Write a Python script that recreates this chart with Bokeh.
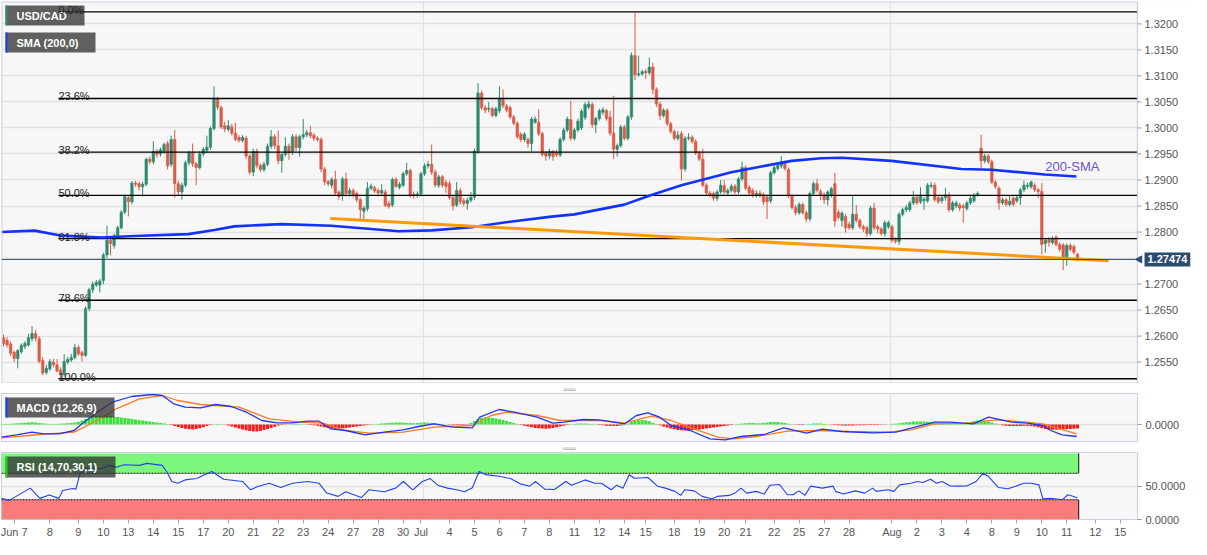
from bokeh.plotting import figure
from bokeh.models import (Range1d, FixedTicker, SingleIntervalTicker,
                          PrintfTickFormatter, Label, BoxAnnotation,
                          ColumnDataSource, Title)
from bokeh.layouts import column
from bokeh.embed import file_html
from bokeh.resources import INLINE
from bokeh.core.properties import value

FONT = "Liberation Sans"

# ---------------- USD/CAD 4H candles ----------------
opens = [
    1.2597, 1.2592, 1.2585, 1.2569, 1.2557, 1.2570, 1.2580, 1.2583, 1.2595, 1.2605,
    1.2595, 1.2553, 1.2530, 1.2537, 1.2550, 1.2545, 1.2535, 1.2526, 1.2550, 1.2554,
    1.2559, 1.2578, 1.2568, 1.2563, 1.2653, 1.2689, 1.2698, 1.2698, 1.2707, 1.2756,
    1.2784, 1.2774, 1.2793, 1.2808, 1.2838, 1.2866, 1.2858, 1.2894, 1.2893, 1.2887,
    1.2892, 1.2940, 1.2935, 1.2955, 1.2950, 1.2955, 1.2970, 1.2930, 1.2978, 1.2893,
    1.2877, 1.2890, 1.2933, 1.2952, 1.2931, 1.2924, 1.2950, 1.2957, 1.2963, 1.2999,
    1.3055, 1.3039, 1.3004, 1.2997, 1.3002, 1.2990, 1.2982, 1.2976, 1.2980, 1.2946,
    1.2915, 1.2955, 1.2928, 1.2920, 1.2930, 1.2965, 1.2983, 1.2966, 1.2937, 1.2949,
    1.2965, 1.2955, 1.2983, 1.2962, 1.2983, 1.2987, 1.2991, 1.2986, 1.2980, 1.2978,
    1.2921, 1.2897, 1.2890, 1.2901, 1.2877, 1.2870, 1.2902, 1.2874, 1.2880, 1.2874,
    1.2862, 1.2840, 1.2845, 1.2884, 1.2885, 1.2880, 1.2875, 1.2877, 1.2855, 1.2852,
    1.2901, 1.2886, 1.2890, 1.2912, 1.2918, 1.2873, 1.2870, 1.2873, 1.2912, 1.2927,
    1.2930, 1.2915, 1.2890, 1.2906, 1.2895, 1.2893, 1.2866, 1.2852, 1.2880, 1.2860,
    1.2855, 1.2861, 1.2867, 1.2955, 1.3067, 1.3039, 1.3036, 1.3037, 1.3024, 1.3033,
    1.3055, 1.3042, 1.3039, 1.3021, 1.3009, 1.2988, 1.2978, 1.2978, 1.2970, 1.3011,
    1.3011, 1.2989, 1.2952, 1.2946, 1.2955, 1.2953, 1.2948, 1.2978, 1.2996, 1.3016,
    1.2980, 1.2996, 1.3000, 1.3020, 1.3040, 1.3045, 1.3006, 1.3018, 1.3030, 1.3033,
    1.3021, 1.2990, 1.2959, 1.2966, 1.3002, 1.2980, 1.3021, 1.3139, 1.3102, 1.3104,
    1.3109, 1.3106, 1.3117, 1.3074, 1.3046, 1.3024, 1.3034, 1.3008, 1.2993, 1.2980,
    1.2989, 1.2921, 1.2980, 1.2982, 1.2974, 1.2952, 1.2940, 1.2890, 1.2875, 1.2874,
    1.2865, 1.2877, 1.2889, 1.2875, 1.2880, 1.2888, 1.2877, 1.2902, 1.2924, 1.2886,
    1.2880, 1.2870, 1.2875, 1.2872, 1.2867, 1.2860, 1.2914, 1.2922, 1.2927, 1.2932,
    1.2920, 1.2869, 1.2847, 1.2837, 1.2853, 1.2837, 1.2825, 1.2874, 1.2893, 1.2878,
    1.2872, 1.2862, 1.2870, 1.2893, 1.2838, 1.2822, 1.2830, 1.2815, 1.2808, 1.2834,
    1.2822, 1.2810, 1.2808, 1.2797, 1.2846, 1.2810, 1.2806, 1.2797, 1.2810, 1.2810,
    1.2786, 1.2782, 1.2834, 1.2843, 1.2843, 1.2856, 1.2867, 1.2858, 1.2860, 1.2860,
    1.2888, 1.2890, 1.2866, 1.2860, 1.2866, 1.2871, 1.2843, 1.2850, 1.2852, 1.2850,
    1.2845, 1.2856, 1.2860, 1.2871, 1.2961, 1.2937, 1.2946, 1.2935, 1.2896, 1.2884,
    1.2856, 1.2862, 1.2853, 1.2865, 1.2860, 1.2866, 1.2881, 1.2888, 1.2887, 1.2890,
    1.2881, 1.2878, 1.2778, 1.2785, 1.2780, 1.2790, 1.2776, 1.2775, 1.2747, 1.2774,
    1.2772, 1.2757,
]
highs = [
    1.2603, 1.2598, 1.2590, 1.2572, 1.2575, 1.2586, 1.2590, 1.2604, 1.2619, 1.2612,
    1.2600, 1.2560, 1.2545, 1.2556, 1.2556, 1.2556, 1.2540, 1.2565, 1.2560, 1.2566,
    1.2585, 1.2583, 1.2572, 1.2657, 1.2693, 1.2705, 1.2708, 1.2710, 1.2760, 1.2812,
    1.2788, 1.2797, 1.2812, 1.2842, 1.2872, 1.2870, 1.2898, 1.2898, 1.2897, 1.2897,
    1.2943, 1.2945, 1.2974, 1.2960, 1.2962, 1.2972, 1.2975, 1.2985, 1.2996, 1.2898,
    1.2895, 1.2937, 1.2956, 1.2970, 1.2935, 1.2955, 1.2963, 1.2985, 1.3003, 1.3080,
    1.3060, 1.3043, 1.3012, 1.3015, 1.3008, 1.3010, 1.2986, 1.2986, 1.2985, 1.2950,
    1.2960, 1.2960, 1.2932, 1.2935, 1.2970, 1.2996, 1.2988, 1.2995, 1.2952, 1.2982,
    1.2970, 1.2988, 1.2988, 1.2987, 1.3017, 1.2996, 1.3004, 1.2990, 1.2984, 1.2982,
    1.2925, 1.2900, 1.2905, 1.2918, 1.2880, 1.2906, 1.2914, 1.2885, 1.2884, 1.2878,
    1.2866, 1.2850, 1.2896, 1.2893, 1.2889, 1.2884, 1.2892, 1.2882, 1.2860, 1.2905,
    1.2905, 1.2896, 1.2916, 1.2933, 1.2922, 1.2878, 1.2878, 1.2916, 1.2932, 1.2936,
    1.2968, 1.2920, 1.2910, 1.2910, 1.2900, 1.2898, 1.2870, 1.2896, 1.2885, 1.2865,
    1.2866, 1.2877, 1.2960, 1.3086, 1.3072, 1.3044, 1.3050, 1.3041, 1.3041, 1.3080,
    1.3074, 1.3046, 1.3043, 1.3025, 1.3013, 1.2992, 1.2992, 1.2982, 1.3021, 1.3022,
    1.3036, 1.2993, 1.2956, 1.2960, 1.2958, 1.2958, 1.2982, 1.3000, 1.3022, 1.3052,
    1.3000, 1.3018, 1.3036, 1.3050, 1.3052, 1.3050, 1.3022, 1.3037, 1.3040, 1.3037,
    1.3033, 1.3062, 1.2970, 1.3006, 1.3006, 1.3025, 1.3145, 1.3222, 1.3139, 1.3112,
    1.3113, 1.3135, 1.3125, 1.3078, 1.3050, 1.3038, 1.3038, 1.3012, 1.2997, 1.2994,
    1.2994, 1.2984, 1.2990, 1.2986, 1.2978, 1.2956, 1.2960, 1.2894, 1.2879, 1.2878,
    1.2881, 1.2900, 1.2900, 1.2884, 1.2893, 1.2892, 1.2906, 1.2935, 1.2928, 1.2890,
    1.2884, 1.2880, 1.2880, 1.2876, 1.2870, 1.2918, 1.2928, 1.2932, 1.2946, 1.2937,
    1.2924, 1.2873, 1.2852, 1.2857, 1.2857, 1.2841, 1.2878, 1.2897, 1.2902, 1.2882,
    1.2876, 1.2880, 1.2887, 1.2914, 1.2843, 1.2840, 1.2834, 1.2820, 1.2871, 1.2852,
    1.2826, 1.2814, 1.2812, 1.2850, 1.2856, 1.2814, 1.2810, 1.2822, 1.2822, 1.2814,
    1.2790, 1.2838, 1.2847, 1.2852, 1.2860, 1.2879, 1.2871, 1.2886, 1.2868, 1.2894,
    1.2896, 1.2895, 1.2870, 1.2870, 1.2885, 1.2876, 1.2860, 1.2860, 1.2856, 1.2854,
    1.2860, 1.2869, 1.2875, 1.2878, 1.2987, 1.2950, 1.2950, 1.2939, 1.2900, 1.2888,
    1.2866, 1.2866, 1.2871, 1.2869, 1.2870, 1.2885, 1.2899, 1.2895, 1.2899, 1.2894,
    1.2885, 1.2894, 1.2788, 1.2790, 1.2792, 1.2794, 1.2780, 1.2779, 1.2778, 1.2778,
    1.2776, 1.2760,
]
lows = [
    1.2580, 1.2578, 1.2562, 1.2550, 1.2538, 1.2566, 1.2575, 1.2580, 1.2590, 1.2590,
    1.2548, 1.2525, 1.2526, 1.2533, 1.2540, 1.2530, 1.2518, 1.2522, 1.2546, 1.2550,
    1.2555, 1.2562, 1.2551, 1.2560, 1.2648, 1.2683, 1.2694, 1.2684, 1.2700, 1.2750,
    1.2755, 1.2768, 1.2790, 1.2805, 1.2834, 1.2830, 1.2853, 1.2887, 1.2880, 1.2868,
    1.2888, 1.2930, 1.2930, 1.2943, 1.2945, 1.2950, 1.2920, 1.2925, 1.2866, 1.2870,
    1.2862, 1.2886, 1.2928, 1.2925, 1.2890, 1.2920, 1.2945, 1.2952, 1.2958, 1.2995,
    1.3035, 1.2998, 1.2992, 1.2993, 1.2985, 1.2975, 1.2972, 1.2972, 1.2940, 1.2910,
    1.2907, 1.2922, 1.2915, 1.2915, 1.2926, 1.2960, 1.2960, 1.2930, 1.2914, 1.2945,
    1.2939, 1.2948, 1.2955, 1.2945, 1.2978, 1.2982, 1.2980, 1.2975, 1.2974, 1.2915,
    1.2890, 1.2888, 1.2884, 1.2870, 1.2862, 1.2860, 1.2868, 1.2868, 1.2866, 1.2857,
    1.2825, 1.2823, 1.2840, 1.2880, 1.2875, 1.2868, 1.2870, 1.2848, 1.2845, 1.2848,
    1.2884, 1.2882, 1.2886, 1.2908, 1.2866, 1.2864, 1.2866, 1.2868, 1.2908, 1.2922,
    1.2910, 1.2886, 1.2885, 1.2885, 1.2875, 1.2862, 1.2841, 1.2848, 1.2853, 1.2850,
    1.2843, 1.2857, 1.2862, 1.2950, 1.3034, 1.3028, 1.3030, 1.3020, 1.3020, 1.3028,
    1.3038, 1.3030, 1.3017, 1.3005, 1.2979, 1.2973, 1.2973, 1.2962, 1.2955, 1.3008,
    1.2985, 1.2945, 1.2937, 1.2940, 1.2937, 1.2944, 1.2944, 1.2974, 1.2992, 1.2976,
    1.2976, 1.2992, 1.2996, 1.3015, 1.3036, 1.3000, 1.2990, 1.3014, 1.3025, 1.3014,
    1.2985, 1.2940, 1.2945, 1.2962, 1.2976, 1.2976, 1.3016, 1.3092, 1.3098, 1.3100,
    1.3094, 1.3102, 1.3065, 1.3040, 1.3015, 1.3020, 1.3004, 1.2989, 1.2976, 1.2976,
    1.2899, 1.2916, 1.2976, 1.2970, 1.2948, 1.2936, 1.2886, 1.2870, 1.2866, 1.2860,
    1.2860, 1.2873, 1.2873, 1.2870, 1.2876, 1.2873, 1.2873, 1.2898, 1.2880, 1.2871,
    1.2866, 1.2866, 1.2866, 1.2852, 1.2825, 1.2855, 1.2910, 1.2918, 1.2922, 1.2918,
    1.2865, 1.2843, 1.2832, 1.2833, 1.2833, 1.2819, 1.2820, 1.2870, 1.2876, 1.2861,
    1.2854, 1.2851, 1.2866, 1.2810, 1.2824, 1.2810, 1.2799, 1.2804, 1.2804, 1.2818,
    1.2806, 1.2800, 1.2791, 1.2793, 1.2804, 1.2797, 1.2793, 1.2791, 1.2806, 1.2780,
    1.2778, 1.2775, 1.2830, 1.2838, 1.2839, 1.2852, 1.2852, 1.2854, 1.2843, 1.2856,
    1.2884, 1.2858, 1.2854, 1.2855, 1.2860, 1.2838, 1.2839, 1.2846, 1.2840, 1.2818,
    1.2841, 1.2852, 1.2856, 1.2868, 1.2923, 1.2932, 1.2931, 1.2892, 1.2883, 1.2843,
    1.2852, 1.2849, 1.2849, 1.2849, 1.2856, 1.2852, 1.2877, 1.2884, 1.2883, 1.2877,
    1.2865, 1.2757, 1.2760, 1.2772, 1.2776, 1.2772, 1.2762, 1.2727, 1.2735, 1.2763,
    1.2757, 1.2744,
]
closes = [
    1.2585, 1.2583, 1.2567, 1.2557, 1.2572, 1.2582, 1.2586, 1.2597, 1.2605, 1.2596,
    1.2551, 1.2529, 1.2538, 1.2551, 1.2545, 1.2533, 1.2526, 1.2551, 1.2555, 1.2559,
    1.2578, 1.2566, 1.2563, 1.2653, 1.2689, 1.2700, 1.2703, 1.2706, 1.2756, 1.2784,
    1.2778, 1.2793, 1.2808, 1.2838, 1.2868, 1.2858, 1.2894, 1.2892, 1.2887, 1.2892,
    1.2940, 1.2935, 1.2955, 1.2949, 1.2958, 1.2968, 1.2927, 1.2978, 1.2893, 1.2877,
    1.2890, 1.2933, 1.2952, 1.2931, 1.2924, 1.2950, 1.2959, 1.2963, 1.2999, 1.3055,
    1.3040, 1.3002, 1.2998, 1.3004, 1.2990, 1.2978, 1.2976, 1.2982, 1.2946, 1.2915,
    1.2955, 1.2928, 1.2920, 1.2930, 1.2965, 1.2983, 1.2966, 1.2937, 1.2949, 1.2965,
    1.2952, 1.2983, 1.2962, 1.2983, 1.2987, 1.2991, 1.2985, 1.2980, 1.2978, 1.2921,
    1.2896, 1.2893, 1.2901, 1.2875, 1.2868, 1.2902, 1.2874, 1.2880, 1.2872, 1.2862,
    1.2843, 1.2846, 1.2884, 1.2888, 1.2879, 1.2875, 1.2880, 1.2851, 1.2849, 1.2901,
    1.2888, 1.2892, 1.2912, 1.2918, 1.2871, 1.2870, 1.2873, 1.2912, 1.2927, 1.2930,
    1.2915, 1.2890, 1.2906, 1.2890, 1.2888, 1.2866, 1.2850, 1.2880, 1.2858, 1.2855,
    1.2861, 1.2867, 1.2955, 1.3067, 1.3039, 1.3034, 1.3038, 1.3024, 1.3037, 1.3055,
    1.3043, 1.3034, 1.3021, 1.3009, 1.2983, 1.2978, 1.2988, 1.2970, 1.3017, 1.3017,
    1.2989, 1.2949, 1.2946, 1.2955, 1.2945, 1.2948, 1.2978, 1.2996, 1.3017, 1.2980,
    1.2996, 1.3013, 1.3032, 1.3045, 1.3046, 1.3006, 1.3018, 1.3033, 1.3035, 1.3018,
    1.2990, 1.2959, 1.2966, 1.3002, 1.2980, 1.3021, 1.3139, 1.3102, 1.3104, 1.3108,
    1.3106, 1.3117, 1.3074, 1.3046, 1.3024, 1.3034, 1.3008, 1.2993, 1.2980, 1.2986,
    1.2921, 1.2980, 1.2982, 1.2974, 1.2952, 1.2940, 1.2890, 1.2875, 1.2870, 1.2865,
    1.2877, 1.2890, 1.2877, 1.2880, 1.2888, 1.2877, 1.2902, 1.2924, 1.2884, 1.2875,
    1.2870, 1.2874, 1.2870, 1.2858, 1.2858, 1.2914, 1.2924, 1.2928, 1.2935, 1.2922,
    1.2869, 1.2847, 1.2837, 1.2853, 1.2837, 1.2825, 1.2874, 1.2893, 1.2880, 1.2871,
    1.2862, 1.2877, 1.2883, 1.2821, 1.2828, 1.2836, 1.2808, 1.2808, 1.2834, 1.2822,
    1.2810, 1.2806, 1.2797, 1.2846, 1.2808, 1.2806, 1.2797, 1.2818, 1.2818, 1.2784,
    1.2782, 1.2834, 1.2843, 1.2847, 1.2856, 1.2867, 1.2856, 1.2871, 1.2863, 1.2890,
    1.2890, 1.2862, 1.2858, 1.2866, 1.2871, 1.2843, 1.2856, 1.2856, 1.2846, 1.2847,
    1.2856, 1.2865, 1.2871, 1.2874, 1.2937, 1.2946, 1.2935, 1.2896, 1.2887, 1.2856,
    1.2862, 1.2853, 1.2859, 1.2853, 1.2866, 1.2881, 1.2890, 1.2890, 1.2896, 1.2881,
    1.2878, 1.2776, 1.2784, 1.2780, 1.2786, 1.2776, 1.2767, 1.2747, 1.2774, 1.2767,
    1.2761, 1.27474,
]

# 200-period SMA (candle index, value)
sma_idx = [-0.6, 8.7, 16.3, 27.5, 36.7, 51.8, 59.1, 64.7, 77.9, 91.9, 110.7, 120.0,
           131.2, 140.4, 153.6, 160.0, 174.0, 181.6, 190.0, 204.0, 212.4, 220.9,
           229.2, 234.9, 248.9, 268.5, 276.9, 291.8, 300.7]
sma_val = [1.28000, 1.28027, 1.27930, 1.27895, 1.27925, 1.27960, 1.28040, 1.28109,
           1.28152, 1.28121, 1.28016, 1.28031, 1.28091, 1.28184, 1.28296, 1.28339,
           1.28526, 1.28713, 1.28900, 1.29148, 1.29260, 1.29367, 1.29417, 1.29428,
           1.29367, 1.29211, 1.29198, 1.29105, 1.29068]

# descending support line
trend_idx = [91.6, 309.7]
trend_val = [1.2826, 1.2745]

# Fibonacci retracement (swing high / low)
fib_high, fib_low = 1.3223, 1.2518
fib_ratios = [0.0, 0.236, 0.382, 0.5, 0.618, 0.786, 1.0]
fib_labels = ["0.0%", "23.6%", "38.2%", "50.0%", "61.8%", "78.6%", "100.0%"]

# price axis ticks
price_ticks = [1.2550, 1.2600, 1.2650, 1.2700, 1.2750, 1.2800, 1.2850, 1.2900,
               1.2950, 1.3000, 1.3050, 1.3100, 1.3150, 1.3200]

# MACD (12,26,9) in pips (1e-4)
macd_idx = [-0.6, 3.7, 8.0, 11.2, 15.5, 19.8, 22.0, 26.3, 30.5, 35.9,
            41.8, 44.5, 47.7, 50.9, 55.2, 59.5, 63.8, 68.1, 72.4, 76.7,
            81.0, 85.3, 88.4, 91.7, 95.9, 101.3, 106.7, 112.0, 116.3, 120.7,
            126.0, 131.4, 133.5, 138.9, 143.2, 149.6, 153.9, 157.1, 162.5, 166.8,
            174.1, 177.4, 180.6, 183.9, 187.1, 192.5, 198.0, 202.3, 206.7, 213.2,
            218.6, 225.1, 229.5, 234.9, 243.6, 250.1, 254.4, 260.9, 265.2, 271.8,
            276.1, 282.6, 286.9, 291.3, 293.5, 296.7, 300.8]
macd_pips = [-12.7, -10.3, -7.7, -9.3, -9.3, -6, 0.7, 12.3, 22.3, 28,
             30, 29, 20.7, 17.3, 16.7, 20, 18, 12.3, 4, 1.7,
             1.7, 3.3, 3.3, -4.3, -6, -10.3, -7.7, -5.3, -2, 0.7,
             -2.7, -3.3, 7.3, 15, 12.3, 7.3, 1.3, 2.3, 5, 4.7,
             0.7, 9, 11.7, 7.3, -1, -6, -14.3, -15.3, -12, -10,
             -3.3, -8.7, -4.7, -7, -8.3, -7.7, -3.7, 2.3, 2.3, 0.7,
             7.3, 2.3, 1.3, -1, -6, -10.3, -12]
signal_idx = [-0.6, 10.2, 19.8, 26.3, 31.6, 38.1, 44.5, 48.8, 55.2, 59.5,
              66.0, 74.5, 83.1, 89.5, 95.9, 102.4, 112.0, 120.7, 131.4, 136.7,
              141.0, 149.6, 156.0, 164.6, 167.6, 174.1, 181.7, 187.1, 193.6, 200.1,
              204.5, 211.0, 219.7, 228.3, 237.1, 247.9, 254.4, 260.9, 269.6, 278.3,
              286.9, 291.3, 300.8]
signal_pips = [-13.3, -10, -7.7, 4, 15.7, 25.7, 29, 24, 20, 19,
               17.3, 5.7, 2.3, 1.3, -6, -8.7, -7.7, -2.7, -1, 9,
               12.3, 9, 4, 4, 4, 1.7, 8.3, 4, -4.3, -12.7,
               -14.3, -12, -6.7, -6, -7, -7.7, -5.3, 0.7, 1.3, 4.7,
               2.3, 0.7, -9.3]
hist_pips = [
    0.5, 0.6, 0.8, 1, 1.2, 1.5, 1.8, 2, 2.2, 2, 1.6, 1.2, 0.8, 0.5,
    0.4, 0.6, 0.8, 1, 1.2, 1.5, 2, 2.8,
    4, 5.5, 7, 8, 8.6, 9, 8.8, 8.5, 8.2, 7.8,
    7.5, 7, 6.6, 6, 5.5, 5, 4.5, 4, 3.5, 3, 2.5, 2, 1.5, 1, 0.5,
    -0.5, -1.5, -2.5, -3.5, -4.2, -4.8, -5, -4.6, -3.8, -2.8, -1.5,
    -0.5, 0.3, 0.5, 0.3, -0.3, -1,
    -2, -3, -4, -5, -5.8, -6.5, -7, -7, -6.5, -5.5, -4.5, -3.5, -2.2, -1,
    -0.5, -0.3, 0.2, 0.4, 0.5, 0.4, 0.2, -0.2, -0.5, -0.8, -1.2,
    -2, -2.8, -3.5, -4, -4.2, -4, -3.8, -3.5, -3, -2.5, -2, -1.5, -1, -0.6, -0.3,
    0.3, 0.6, 1, 1.3, 1.6, 1.8, 2, 2, 1.8, 1.6, 1.4, 1.2, 1.5, 1.8, 2, 1.8, 1.5, 1.2, 0.8, 0.4, 0.1,
    -0.3, -0.5, -0.6, -0.6, -0.4, -0.2,
    1.5, 3.5, 5.5, 6.8, 7.2, 7, 6.5, 6, 5.3, 4.5, 3.5, 2.5, 1.5, 0.5,
    -0.5, -1.2, -2, -2.8, -3.4, -3.8, -4, -4.2, -4, -3.5, -2.8, -2, -1.2, -0.5,
    0.3, 0.6, 0.9, 1, 1, 0.8, 0.5, 0.2,
    -0.4, -0.8, -1.2, -1.5, -1.6, -1.4, -1, -0.3,
    1, 2.5, 3.5, 4.3, 4.6, 4.2, 3.2, 1.8,
    0.5, -0.8, -2, -3, -4, -4.8, -5.4, -5.8, -6, -6, -5.8, -5.5, -5, -4.5, -4, -3.5, -3, -2.5, -2, -1.5, -1, -0.5,
    0.3, 0.6, 1, 1.3, 1.5, 1.4, 1.2, 1.3, 1.6, 2, 2.4, 2.6, 2.5, 2, 1.5, 0.8,
    0.3, -0.3, -0.6, -0.4, 0.2, 0.6, 1, 1.1, 0.9, 0.5, 0.2, -0.2, -0.5, -0.7,
    -0.9, -1, -1, -0.9, -0.8, -0.8, -0.7, -0.6, -0.6, -0.5, -0.4, -0.3, -0.2, 0.1, 0.4, 0.8, 1.2,
    1.7, 2.2, 2.6, 2.9, 3, 3, 2.9, 2.7, 2.4, 2, 1.7, 1.5, 1.3, 1, 0.7,
    0.6, 0.8, 1.2, 1.8, 2.6, 3.4, 4, 4.2, 3.8, 3, 2, 1,
    -0.2, -0.8, -1.2, -1.5, -1.6, -1.5, -1.4, -1.3, -1.3, -1.5, -2,
    -2.8, -3.8, -4.6, -5, -5.2, -5.2, -5, -4.8, -4.6, -4.4, -4.2, -4,
]

# RSI (14)
rsi_idx = [-0.6, 1.6, 7.5, 10.2, 12.8, 15.5, 16.6, 19.3, 20.3, 21.4,
           23.0, 27.3, 29.5, 31.6, 33.8, 38.1, 40.2, 44.5, 45.8, 47.2,
           48.8, 50.9, 54.1, 58.4, 61.7, 67.0, 69.2, 71.3, 74.5, 77.7,
           81.0, 85.3, 88.4, 90.6, 93.8, 95.9, 100.3, 102.4, 106.7, 109.9,
           112.1, 114.7, 117.4, 119.6, 121.7, 124.4, 127.1, 129.2, 131.4, 133.3,
           135.1, 138.9, 142.1, 144.8, 147.5, 149.1, 151.7, 154.4, 157.6, 159.2,
           163.0, 165.7, 167.6, 170.3, 171.9, 173.6, 175.4, 176.8, 180.6, 183.3,
           185.5, 188.2, 189.8, 190.9, 193.6, 195.8, 198.5, 200.1, 203.4, 205.0,
           206.7, 208.3, 211.0, 213.2, 214.8, 217.5, 219.7, 221.3, 222.9, 224.6,
           226.2, 229.5, 232.5, 233.2, 235.4, 238.7, 241.4, 243.6, 244.6, 247.9,
           249.5, 251.2, 254.4, 256.1, 257.7, 259.8, 261.5, 263.1, 265.2, 267.4,
           270.1, 272.6, 274.5, 276.1, 278.8, 281.5, 283.7, 285.9, 288.0, 290.2,
           291.3, 293.5, 295.1, 296.7, 298.3, 301.0]
rsi_val = [32, 29, 47.5, 32, 37, 32, 44, 47, 46, 69,
           78, 77, 82, 79, 83, 82, 85, 82, 72, 57.6,
           55, 60, 62, 72.7, 61, 57.6, 45, 50, 55, 48.5,
           55, 57.6, 55, 40, 35, 42, 33.3, 45, 42, 47.5,
           57.6, 45, 57.6, 62, 52, 47.5, 45, 42, 48, 72.7,
           68, 65.6, 62, 54, 50.5, 57.6, 46, 45.5, 57.6, 52,
           60, 55, 55, 45, 52, 47.5, 67.7, 62.6, 63.6, 50.5,
           47.5, 42.6, 36.5, 45, 43.4, 35, 31.3, 35, 36.5, 40,
           47.5, 40, 42.6, 38.5, 52, 53, 37.5, 37.5, 43.4, 36.5,
           50.5, 47.5, 50.5, 42.6, 38.5, 43.4, 40, 47.5, 42.6, 45,
           42.6, 52.5, 55, 57.6, 56, 61, 55, 57.6, 51, 50.5,
           51, 57.6, 70, 65, 48.5, 46.5, 50.5, 55, 55, 52.5,
           31.3, 32, 31, 29.8, 37.5, 33]

# x-axis date ticks (candle index) and labels
date_ticks = [3, 13, 21, 28, 35, 42, 49, 56, 63, 70,
              77, 84, 91, 98, 105, 112, 117, 125, 132, 139,
              146, 153, 160, 167, 174, 180, 188, 195, 202, 208,
              216, 223, 230, 237, 249, 256, 263, 270, 277, 284,
              291, 298, 306, 313]
date_labels = ["Jun 7", "8", "9", "10", "13", "14", "15", "17", "20", "21",
               "22", "23", "24", "27", "28", "30", "Jul", "4", "5", "6",
               "7", "8", "11", "12", "14", "15", "18", "19", "20", "21",
               "22", "25", "27", "28", "Aug", "2", "3", "4", "8", "9",
               "10", "11", "12", "15"]
month_ticks = [117.6, 248.6]

# ---------------- styling / layout ----------------
UP, DOWN = "#2e8a6e", "#dc5a46"
BORDER = "#c8cfe2"
PX = 3.568                      # pixels per candle
X0 = -0.56
FW_SUB = 1136                   # frame width of indicator panels
FW_MAIN = 1190                  # main frame also holds the price scale
AX0 = X0 + FW_SUB / PX          # x of price-scale line
FH_MAIN, FH_MACD, FH_RSI = 382, 49, 67
Y0, Y1 = 1.25089, 1.32430

n = len(closes)
xs = list(range(n))
candle_src = ColumnDataSource(dict(
    x=xs, h=highs, l=lows,
    top=[max(o, c) for o, c in zip(opens, closes)],
    bottom=[min(o, c) for o, c in zip(opens, closes)],
    color=[UP if c >= o else DOWN for o, c in zip(opens, closes)],
))


def style_common(p):
    p.background_fill_color = "#f7f7f7"
    p.border_fill_color = "white"
    p.xgrid.ticker = FixedTicker(ticks=month_ticks)
    p.xgrid.grid_line_color = "#e2e2e2"
    p.xgrid.grid_line_width = 1.2
    p.ygrid.grid_line_color = "#e2e2e2"
    p.ygrid.grid_line_width = 1.4


def style_yaxis(p):
    yax = p.yaxis[0]
    yax.major_label_text_font = FONT
    yax.major_label_text_font_size = "11px"
    yax.major_label_text_color = "#555555"
    yax.axis_line_color = None
    yax.major_tick_line_color = "#9a9a9a"
    yax.major_tick_out = 4
    yax.major_tick_in = 0
    yax.minor_tick_line_color = None
    yax.major_label_standoff = 4
    yax.formatter = PrintfTickFormatter(format="%.4f")


def tag_box(p, fh, top, bottom, right, accent, text):
    p.add_layout(BoxAnnotation(left=4, right=right, top=fh - top, bottom=fh - bottom,
                               left_units="screen", right_units="screen",
                               top_units="screen", bottom_units="screen",
                               fill_color="#333333", fill_alpha=0.77, line_color=None))
    p.add_layout(BoxAnnotation(left=4, right=6, top=fh - top, bottom=fh - bottom,
                               left_units="screen", right_units="screen",
                               top_units="screen", bottom_units="screen",
                               fill_color=accent, fill_alpha=1.0, line_color=None))
    p.add_layout(Label(x=15, y=fh - (top + bottom) / 2, x_units="screen", y_units="screen",
                       text=text, text_font=FONT, text_font_size="11px",
                       text_font_style="bold", text_color="white", text_baseline="middle"))


def handle():
    return Title(text="\u2550\u2550\u2550", align="center", standoff=0,
                 text_font="DejaVu Sans Mono", text_font_size="7px",
                 text_color="#8c8c8c", text_font_style="normal")


# ---------------- main price panel ----------------
p = figure(frame_width=FW_MAIN, frame_height=FH_MAIN,
           x_range=Range1d(X0, X0 + FW_MAIN / PX), y_range=Range1d(Y0, Y1),
           output_backend="svg", toolbar_location=None,
           min_border_left=1, min_border_right=0, min_border_top=1, min_border_bottom=0)
style_common(p)
p.outline_line_color = None
p.xaxis.visible = False
p.yaxis.visible = False
p.ygrid.ticker = SingleIntervalTicker(interval=0.005, num_minor_ticks=0)

p.segment(x0="x", y0="h", x1="x", y1="l", line_color="color", line_width=1, source=candle_src)
p.vbar(x="x", width=0.7, top="top", bottom="bottom", fill_color="color",
       line_color="color", line_width=0.6, source=candle_src)

fib_levels = [fib_high - r * (fib_high - fib_low) for r in fib_ratios]
fib_start = 15.4
p.segment(x0=[fib_start] * len(fib_levels), y0=fib_levels,
          x1=[X0 + FW_SUB / PX] * len(fib_levels), y1=fib_levels,
          line_color="#000000", line_width=1.3)
p.text(x=[fib_start] * len(fib_levels), y=fib_levels, text=fib_labels,
       text_font=value(FONT), text_font_size="11px", text_color="#222222",
       text_baseline="alphabetic", y_offset=-2, level="overlay")

p.line(sma_idx, sma_val, line_color="#1232ff", line_width=2.6)
p.line(trend_idx, trend_val, line_color="#ff9a0a", line_width=3)

# price scale area (inside the frame so that the last-price tag can sit on it)
x_end = X0 + FW_MAIN / PX
p.quad(left=[AX0], right=[x_end + 1], bottom=[Y0 - 0.01], top=[Y1 + 0.01],
       fill_color="white", line_color=None)
p.segment(x0=[AX0, X0, X0, X0], y0=[Y0, Y0, Y1, Y0],
          x1=[AX0, AX0, AX0, X0], y1=[Y1, Y0, Y1, Y1],
          line_color=BORDER, line_width=[1.2, 2, 2, 2])
p.segment(x0=[AX0] * len(price_ticks), y0=price_ticks,
          x1=[AX0 + 4 / PX] * len(price_ticks), y1=price_ticks,
          line_color="#9a9a9a", line_width=1)
p.text(x=[AX0] * len(price_ticks), y=price_ticks,
       text=[f"{v:.4f}" for v in price_ticks], x_offset=7,
       text_font=value(FONT), text_font_size="11px", text_color="#555555",
       text_baseline="middle", text_align="left")

last = closes[-1]
p.segment(x0=[X0], y0=[last], x1=[AX0 + 1], y1=[last], line_color="#2c4a6e", line_width=1)
p.scatter(x=[AX0 + 2.2 / PX], y=[last], marker="triangle", angle=1.5708, size=7,
          fill_color="#2c4a6e", line_color="#2c4a6e")
p.add_layout(Label(x=292, y=1.2925, text="200-SMA", text_font=FONT,
                   text_font_size="13px", text_color="#6d52d2", text_baseline="middle"))
p.add_layout(Label(x=AX0, y=last, x_offset=7,
                   text=f"{last:.5f}", text_font=FONT, text_font_size="11px",
                   text_font_style="bold", text_color="white", text_baseline="middle",
                   background_fill_color="#2c4a6e", padding=3))
tag_box(p, FH_MAIN, 4, 24, 83, "#2e8a6e", "USD/CAD")
tag_box(p, FH_MAIN, 31, 51, 94, "#1f3cff", "SMA (200,0)")

# ---------------- MACD panel ----------------
pm = figure(frame_width=FW_SUB, frame_height=FH_MACD,
            x_range=Range1d(X0, AX0), y_range=Range1d(-0.0018, 0.0031),
            output_backend="svg", toolbar_location=None, y_axis_location="right",
            min_border_left=1, min_border_right=54, min_border_top=0, min_border_bottom=0,
            title=handle())
style_common(pm)
style_yaxis(pm)
pm.outline_line_color = BORDER
pm.xaxis.visible = False
pm.yaxis[0].ticker = FixedTicker(ticks=[0])
pm.ygrid.ticker = FixedTicker(ticks=[0])
hist = [v * 1e-4 for v in hist_pips]
hist_src = ColumnDataSource(dict(
    x=xs[:len(hist)], top=hist,
    color=["#3ae33a" if v >= 0 else "#f21d1d" for v in hist]))
pm.vbar(x="x", width=0.85, top="top", bottom=0, fill_color="color",
        line_color=None, source=hist_src)
pm.line(signal_idx, [v * 1e-4 for v in signal_pips], line_color="#ff7a22", line_width=1.3)
pm.line(macd_idx, [v * 1e-4 for v in macd_pips], line_color="#2236f0", line_width=1.3)
tag_box(pm, FH_MACD, 4, 24, 113, "#1f3cff", "MACD (12,26,9)")

# ---------------- RSI panel ----------------
pr = figure(frame_width=FW_SUB, frame_height=FH_RSI,
            x_range=Range1d(X0, AX0), y_range=Range1d(0, 101.5),
            output_backend="svg", toolbar_location=None, y_axis_location="right",
            min_border_left=1, min_border_right=54, min_border_top=0, min_border_bottom=22,
            title=handle())
style_common(pr)
style_yaxis(pr)
pr.outline_line_color = BORDER
pr.yaxis[0].ticker = FixedTicker(ticks=[0, 50])
pr.ygrid.ticker = FixedTicker(ticks=[50])
band_left, band_right = X0, n - 1 + 0.35
pr.quad(left=band_left, right=band_right, bottom=70, top=100, fill_color="#7cf77c", line_color=None)
pr.quad(left=band_left, right=band_right, bottom=0, top=30, fill_color="#fa7b7b", line_color=None)
pr.segment(x0=[band_left, band_left], y0=[70, 30], x1=[band_right, band_right], y1=[70, 30],
           line_color="#111111", line_width=1, line_dash="2 1")
pr.segment(x0=[band_right, band_right], y0=[70, 0], x1=[band_right, band_right], y1=[100, 30],
           line_color="#111111", line_width=1)
pr.line(rsi_idx, rsi_val, line_color="#2342ee", line_width=1.1)
tag_box(pr, FH_RSI, 4, 25, 114, "#22cc22", "RSI (14,70,30,1)")

xax = pr.xaxis[0]
xax.ticker = FixedTicker(ticks=date_ticks)
xax.major_label_overrides = {t: s for t, s in zip(date_ticks, date_labels)}
xax.major_label_text_font = FONT
xax.major_label_text_font_size = "11px"
xax.major_label_text_color = "#555555"
xax.axis_line_color = None
xax.major_tick_line_color = "#a0a0a0"
xax.major_tick_out = 4
xax.major_tick_in = 0
xax.minor_tick_line_color = None
xax.major_label_standoff = 2

layout = column(p, pm, pr, spacing=0)
open("out.html", "w").write(file_html(layout, INLINE))
